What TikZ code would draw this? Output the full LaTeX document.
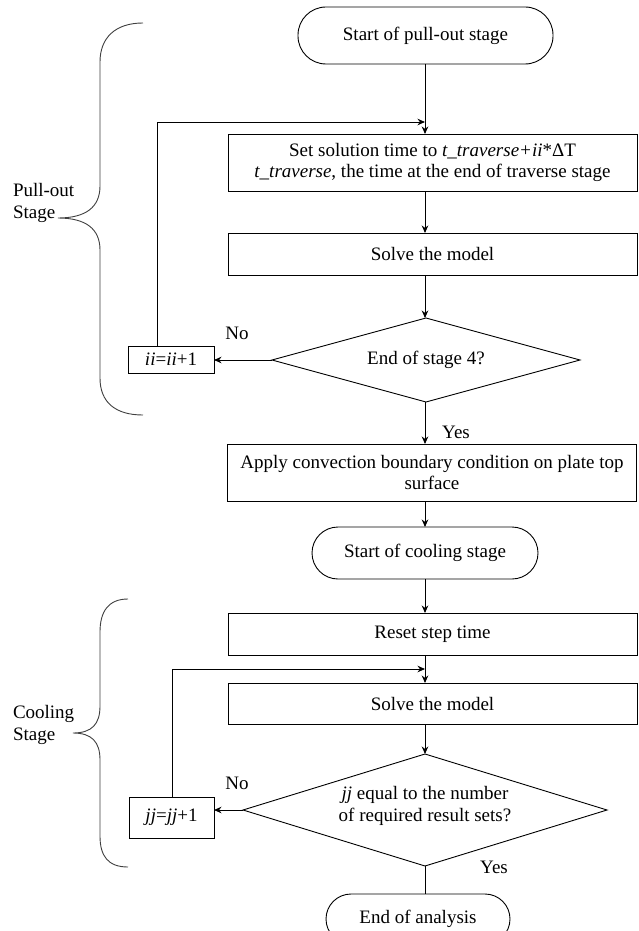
\documentclass[tikz,border=0pt]{standalone}
\usepackage{fontspec}
\setmainfont{Liberation Serif}
\usetikzlibrary{arrows.meta,shapes.geometric}
\begin{document}
\begin{tikzpicture}[x=1pt,y=-1pt,
  font=\fontsize{19}{21.5}\selectfont,
  every node/.style={inner sep=0pt, outer sep=0pt},
  line/.style={draw=black, line width=0.9pt},
  arr/.style={line, -{Stealth[length=7.5pt,width=6.5pt]}},
  procbox/.style={draw, line width=0.9pt, minimum width=409pt, align=center},
  smallbox/.style={draw, line width=0.9pt, minimum width=86pt},
  term/.style={draw, line width=0.9pt, rounded corners=26pt, minimum height=52pt},
  decision/.style={draw, diamond, line width=0.9pt},
  lbl/.style={align=left, anchor=west},
  brace/.style={draw=black!75, line width=0.9pt}]
\clip (0,0) rectangle (639,931);
\fill[white] (0,0) rectangle (639,931);

% ---------- pull-out stage ----------
\node[term, minimum width=255pt, minimum height=57pt, rounded corners=28pt] (s1) at (425.5,35.5) {Start of pull-out stage};
\node[procbox, minimum height=57pt] (b1) at (432.5,162.5) {Set solution time to \textit{t\_traverse+ii}*ΔT\\\textit{t\_traverse}, the time at the end of traverse stage};
\node[procbox, minimum height=42pt] (b2) at (432.5,254) {Solve the model};
\node[decision, minimum width=308pt, minimum height=84pt] (d1) at (426,360) {};
\node (d1t) at (426,360) {End of stage 4?};
\node[smallbox, minimum height=27pt] (ii) at (171,359.5) {\textit{ii}=\textit{ii}+1};
\node[procbox, minimum height=57pt] (b3) at (432,472.5) {Apply convection boundary condition on plate top\\surface};

\coordinate (c1) at (425,122);
\coordinate (l1) at (157,122);

\draw[arr] (s1.south -| c1) -- (b1.north -| c1);
\draw[arr] (ii.north -| l1) -- (l1) -- (c1);
\draw[arr] (b1.south -| c1) -- (b2.north -| c1);
\draw[arr] (b2.south -| c1) -- (d1.north -| c1);
\draw[arr] (d1.west) -- (d1.west -| ii.east);
\draw[arr] (d1.south -| c1) -- (b3.north -| c1);
\node (no1) at (237,333) {No};
\node (yes1) at (456,432) {Yes};

% ---------- cooling stage ----------
\node[term, minimum width=226pt] (s2) at (425,553) {Start of cooling stage};
\node[procbox, minimum height=42pt] (b4) at (432.5,634) {Reset step time};
\node[procbox, minimum height=41pt] (b5) at (432.5,703.5) {Solve the model};
\node[decision, minimum width=364pt, minimum height=112pt] (d2) at (425,810) {};
\node[align=center] (d2t) at (425,806) {\textit{jj} equal to the number\\of required result sets?};
\node[smallbox, minimum width=85pt, minimum height=41pt] (jj) at (171.5,817.5) {\textit{jj}=\textit{jj}+1};
\node[term, minimum width=184pt, minimum height=50pt, rounded corners=25pt] (e) at (418,919) {End of analysis};

\coordinate (c2) at (425,669);
\coordinate (l2) at (172,669);

\draw[arr] (b3.south -| c1) -- (s2.north -| c1);
\draw[arr] (s2.south -| c1) -- (b4.north -| c1);
\draw[arr] (b4.south -| c2) -- (b5.north -| c2);
\draw[arr] (jj.north -| l2) -- (l2) -- (c2);
\draw[arr] (b5.south -| c2) -- (d2.north);
\draw[arr] (d2.west) -- (d2.west -| jj.east);
\draw[line] (d2.south) -- (e.north -| d2.south);
\node (no2) at (237,783) {No};
\node (yes2) at (494,867) {Yes};

% ---------- braces ----------
\draw[brace] (143,23) .. controls (115,23) and (100,38) .. (100,62) -- (100,186)
  .. controls (100,207) and (86,218) .. (58,218)
  .. controls (86,218) and (100,229) .. (100,250) -- (100,378)
  .. controls (100,402) and (115,415) .. (143,415);
\node[lbl] (po) at (13,203) {Pull-out\\Stage};

\draw[brace] (128,599) .. controls (108,599) and (100,612) .. (100,632) -- (100,706)
  .. controls (100,724) and (92,733) .. (73,733)
  .. controls (92,733) and (100,742) .. (100,760) -- (100,836)
  .. controls (100,856) and (108,867) .. (128,867);
\node[lbl] (cs) at (13,725) {Cooling\\Stage};
\end{tikzpicture}
\end{document}
